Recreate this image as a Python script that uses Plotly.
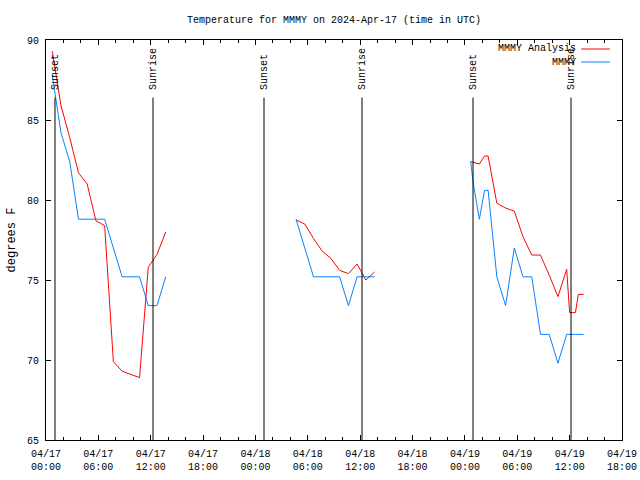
import pandas as pd
import plotly.graph_objects as go

BASE = pd.Timestamp("2024-04-17 00:00")

# hours after 2024-04-17 00:00 UTC, and temperatures (deg F)
red_h1 = [0.72, 1.72, 2.72, 3.72, 4.72, 5.72, 6.72, 7.72, 8.72, 9.72, 10.72, 11.72, 12.72, 13.72]
red_t1 = [89.3, 85.9, 83.9, 81.7, 81.0, 78.7, 78.4, 69.9, 69.3, 69.1, 68.9, 75.8, 76.6, 78.0]
blue_h1 = [0.72, 1.72, 2.72, 3.72, 4.72, 5.72, 6.72, 7.72, 8.72, 9.72, 10.72, 11.72, 12.72, 13.72]
blue_t1 = [87.8, 84.2, 82.4, 78.8, 78.8, 78.8, 78.8, 77.0, 75.2, 75.2, 75.2, 73.4, 73.4, 75.2]

red_h2 = [28.65, 29.65, 30.65, 31.65, 32.65, 33.65, 34.65, 35.65, 36.65, 37.65]
red_t2 = [78.75, 78.5, 77.6, 76.8, 76.35, 75.6, 75.4, 76.0, 75.0, 75.5]
blue_h2 = [28.65, 29.65, 30.65, 31.65, 32.65, 33.65, 34.65, 35.65, 36.65, 37.65]
blue_t2 = [78.8, 77.0, 75.2, 75.2, 75.2, 75.2, 73.4, 75.2, 75.2, 75.2]

red_h3 = [48.66, 49.66, 50.25, 50.66, 51.66, 52.66, 53.66, 54.66, 55.66, 56.66, 57.66, 58.66, 59.66, 60.0, 60.66, 61.0, 61.6]
red_t3 = [82.4, 82.25, 82.75, 82.75, 79.8, 79.5, 79.3, 77.7, 76.56, 76.56, 75.3, 73.96, 75.67, 72.96, 72.96, 74.1, 74.1]
blue_h3 = [48.66, 48.97, 49.66, 50.25, 50.66, 51.66, 52.66, 53.66, 54.66, 55.66, 56.66, 57.66, 58.66, 59.66, 60.66, 61.6]
blue_t3 = [82.4, 81.0, 78.8, 80.6, 80.6, 75.2, 73.4, 77.0, 75.2, 75.2, 71.6, 71.6, 69.8, 71.6, 71.6, 71.6]

sun_labels = ["Sunset", "Sunrise", "Sunset", "Sunrise", "Sunset", "Sunrise"]
sun_h = [1.03, 12.26, 24.98, 36.21, 48.93, 60.16]

tick_h = [0, 6, 12, 18, 24, 30, 36, 42, 48, 54, 60, 66]
tick_text = ["04/17<br>00:00", "04/17<br>06:00", "04/17<br>12:00", "04/17<br>18:00",
             "04/18<br>00:00", "04/18<br>06:00", "04/18<br>12:00", "04/18<br>18:00",
             "04/19<br>00:00", "04/19<br>06:00", "04/19<br>12:00", "04/19<br>18:00"]

series_names = ["MMMY Analysis", "MMMY"]
RED = "#ff0000"
BLUE = "#0a80ff"


def to_t(hours):
    return [BASE + pd.Timedelta(hours=h) for h in hours]


def join(*segs):
    xs, ys = [], []
    for hs, ts in segs:
        if xs:
            xs.append(None)
            ys.append(None)
        xs += to_t(hs)
        ys += ts
    return xs, ys


fig = go.Figure()
rx, ry = join((red_h1, red_t1), (red_h2, red_t2), (red_h3, red_t3))
bx, by = join((blue_h1, blue_t1), (blue_h2, blue_t2), (blue_h3, blue_t3))
fig.add_trace(go.Scatter(x=rx, y=ry, mode="lines", line=dict(color=RED, width=1),
                         name=series_names[0], connectgaps=False))
fig.add_trace(go.Scatter(x=bx, y=by, mode="lines", line=dict(color=BLUE, width=1),
                         name=series_names[1], connectgaps=False))

FONT = "Liberation Mono"

for lab, h in zip(sun_labels, sun_h):
    t = BASE + pd.Timedelta(hours=h)
    fig.add_shape(type="line", xref="x", yref="y", x0=t, x1=t, y0=65, y1=86.4,
                  line=dict(color="black", width=1))
    fig.add_annotation(x=t, y=86.75, xref="x", yref="y", text=lab, textangle=-90,
                       showarrow=False, xanchor="center", yanchor="bottom",
                       font=dict(family=FONT, size=10, color="black"))

# manual legend (text left of line sample, like the original)
leg_y = [0.9775, 0.945]
for name, col, yy in zip(series_names, [RED, BLUE], leg_y):
    fig.add_annotation(xref="paper", yref="paper", x=0.9236, y=yy, text=name,
                       showarrow=False, xanchor="right", yanchor="middle",
                       font=dict(family=FONT, size=10, color="black"))
    fig.add_shape(type="line", xref="paper", yref="paper", x0=0.929, x1=0.979,
                  y0=yy, y1=yy, line=dict(color=col, width=1))

W, H = 640, 480
fig.update_layout(
    width=W, height=H,
    margin=dict(l=46, r=18, t=40, b=40, autoexpand=False),
    plot_bgcolor="white", paper_bgcolor="white",
    font=dict(family=FONT, size=10, color="black"),
    showlegend=False,
    hovermode=False,
    title=dict(text="Temperature for MMMY on 2024-Apr-17 (time in UTC)",
               x=0.5, xref="paper", xanchor="center",
               y=1 - 19 / H, yref="container", yanchor="middle",
               font=dict(family=FONT, size=10, color="black")),
)
fig.update_xaxes(
    type="date",
    range=[BASE, BASE + pd.Timedelta(hours=66)],
    tickmode="array", tickvals=to_t(tick_h), ticktext=tick_text,
    ticks="inside", ticklen=5, tickcolor="black", ticklabelstandoff=4,
    ticklabeloverflow="allow",
    showline=True, linecolor="black", linewidth=1, mirror="ticks",
    showgrid=False, zeroline=False,
    minor=dict(ticks="inside", ticklen=3, tickcolor="black",
               dtick=2 * 3600 * 1000, tick0=BASE, showgrid=False),
)
fig.update_yaxes(
    range=[65, 90], dtick=5, tick0=65,
    ticks="inside", ticklen=5, tickcolor="black", ticklabelstandoff=4,
    showline=True, linecolor="black", linewidth=1, mirror="ticks",
    showgrid=False, zeroline=False,
    title=dict(text="degrees F", standoff=8),
)

fig.write_html("out.html",
               config={"displayModeBar": False},
               post_script="document.body.style.margin='0';document.body.style.overflow='hidden';")
